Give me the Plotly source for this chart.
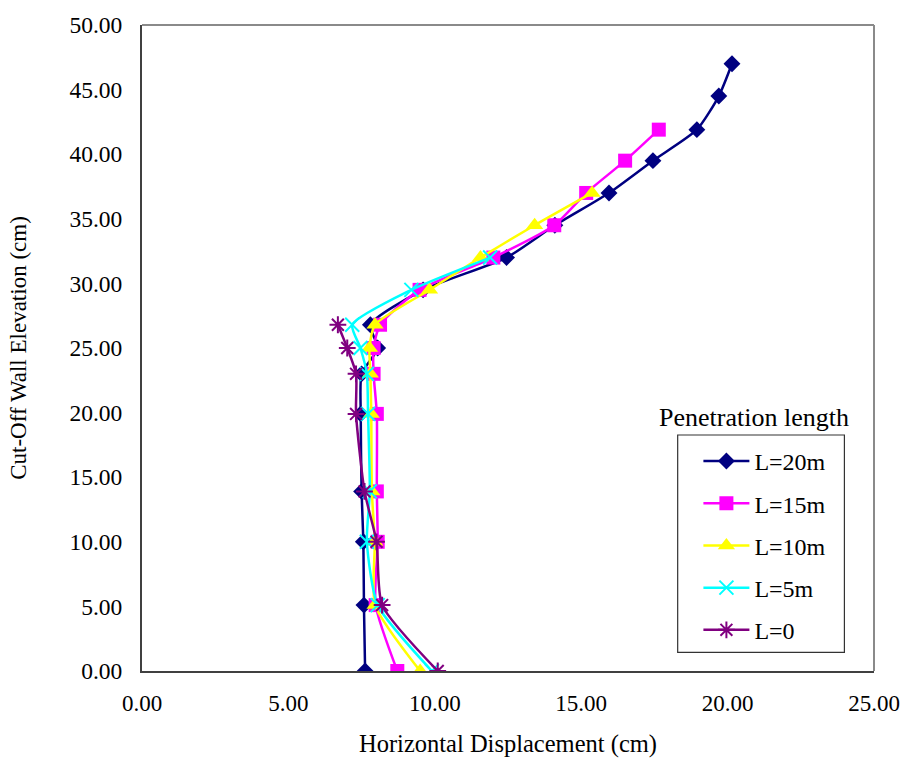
import plotly.graph_objects as go

# ---- data ----
series_names = ["L=20m", "L=15m", "L=10m", "L=5m", "L=0"]

elev_20 = [0.0, 5.1, 10.0, 13.9, 19.9, 23.0, 25.0, 26.8, 29.5, 32.0, 34.5, 37.0, 39.5, 41.9, 44.5, 47.0]
disp_20 = [7.62, 7.58, 7.56, 7.50, 7.47, 7.50, 8.05, 7.80, 9.60, 12.45, 14.10, 15.95, 17.45, 18.95, 19.70, 20.15]

elev_15 = [0.0, 5.1, 10.0, 13.9, 19.9, 23.0, 25.0, 26.8, 29.5, 32.0, 34.5, 37.0, 39.5, 41.9]
disp_15 = [8.72, 7.98, 8.05, 8.02, 8.02, 7.91, 7.91, 8.13, 9.48, 12.00, 14.08, 15.17, 16.50, 17.65]

elev_10 = [0.0, 5.1, 10.0, 13.9, 19.9, 23.0, 25.0, 26.8, 29.5, 32.0, 34.5, 37.0]
disp_10 = [9.50, 7.96, 7.95, 7.85, 7.83, 7.80, 7.77, 7.96, 9.82, 11.56, 13.41, 15.37]

elev_5 = [0.0, 5.1, 10.0, 13.9, 19.9, 23.0, 25.0, 26.8, 29.5, 32.0]
disp_5 = [9.90, 8.05, 7.68, 7.78, 7.72, 7.68, 7.46, 7.18, 9.20, 11.89]

elev_0 = [0.0, 5.1, 10.0, 13.9, 19.9, 23.0, 25.0, 26.8]
disp_0 = [10.10, 8.20, 8.01, 7.60, 7.31, 7.31, 7.01, 6.69]

x_ticks = [0, 5, 10, 15, 20, 25]
y_ticks = [0, 5, 10, 15, 20, 25, 30, 35, 40, 45, 50]

FONT = "Liberation Serif, Times New Roman, serif"

styles = [
    dict(color="#000080", symbol="diamond", size=13, lw=0),
    dict(color="#FF00FF", symbol="square", size=14, lw=0),
    dict(color="#FFFF00", symbol="triangle-up", size=15, lw=0),
    dict(color="#00FFFF", symbol="x-thin-open", size=14, lw=2),
    dict(color="#800080", symbol="asterisk-open", size=14, lw=2),
]
xs = [disp_20, disp_15, disp_10, disp_5, disp_0]
ys = [elev_20, elev_15, elev_10, elev_5, elev_0]

fig = go.Figure()
for name, x, y, st in zip(series_names, xs, ys, styles):
    fig.add_trace(go.Scatter(
        x=x, y=y, name=name, legendgroup=name,
        mode="lines+markers",
        line=dict(color=st["color"], width=2.5, shape="spline", smoothing=0.6),
        marker=dict(symbol=st["symbol"], size=st["size"], color=st["color"],
                    line=dict(color=st["color"], width=st["lw"])),
    ))

W, H = 912, 765
L, R, T, B = 142, 28, 23, 85
pw, ph = W - L - R, H - T - B

def px_x(p):
    return (p - L) / pw

def px_y(p):
    return (H - B - p) / ph

fig.update_layout(
    width=W, height=H,
    margin=dict(l=L, r=R, t=T, b=B),
    paper_bgcolor="white", plot_bgcolor="white",
    font=dict(family=FONT, size=21, color="black"),
    showlegend=True,
    legend=dict(
        x=px_x(706), y=px_y(444), xanchor="left", yanchor="top",
        bgcolor="rgba(0,0,0,0)", borderwidth=0,
        font=dict(family=FONT, size=24, color="black"),
        tracegroupgap=8, itemwidth=46,
    ),
    xaxis=dict(
        range=[0, 25], tickvals=x_ticks, tickformat=".2f",
        showgrid=False, zeroline=False, showline=True,
        linecolor="#404040", linewidth=2, ticks="",
        ticklabelstandoff=10,
        tickfont=dict(family=FONT, size=23),
        title=dict(text="Horizontal Displacement (cm)", font=dict(family=FONT, size=24.5), standoff=20),
    ),
    yaxis=dict(
        range=[0, 50], tickvals=y_ticks, tickformat=".2f",
        showgrid=False, zeroline=False, showline=True,
        linecolor="#404040", linewidth=2, ticks="",
        ticklabelstandoff=13,
        tickfont=dict(family=FONT, size=23.5),
        title=dict(text="Cut-Off Wall Elevation (cm)", font=dict(family=FONT, size=23), standoff=36),
    ),
    shapes=[
        dict(type="line", xref="paper", yref="paper", x0=0, x1=1, y0=1, y1=1,
             line=dict(color="#8a8a8a", width=2)),
        dict(type="line", xref="paper", yref="paper", x0=1, x1=1, y0=0, y1=1,
             line=dict(color="#8a8a8a", width=2)),
        dict(type="rect", xref="paper", yref="paper",
             x0=px_x(685), x1=px_x(854), y0=px_y(661), y1=px_y(440),
             line=dict(color="#333333", width=1.2), fillcolor="rgba(0,0,0,0)"),
    ],
    annotations=[
        dict(text="Penetration length", xref="paper", yref="paper",
             x=px_x(762), y=px_y(422), xanchor="center", yanchor="middle",
             showarrow=False, font=dict(family=FONT, size=26, color="black")),
    ],
)

fig.write_html(
    "out.html",
    config={"displayModeBar": False},
    post_script="document.body.style.margin='0';document.body.style.overflow='hidden';",
)
